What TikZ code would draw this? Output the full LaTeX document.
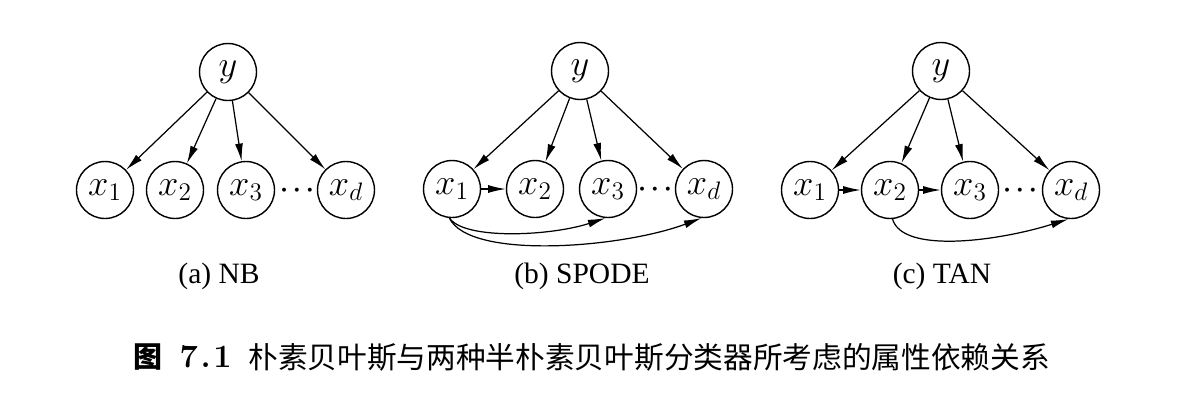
\documentclass[tikz,border=0pt]{standalone}
\usepackage{fontspec}
\usepackage{bm}
\newfontfamily\cjk{Noto Sans CJK SC}
\newfontfamily\labelfont{Liberation Serif}
\usetikzlibrary{arrows.meta}
\begin{document}
\begin{tikzpicture}[x=0.02cm,y=-0.02cm,
  var/.style={circle,draw,line width=0.8pt,minimum size=1.14cm,inner sep=0pt,font=\fontsize{22.5}{25}\selectfont},
  arr/.style={-{Latex[length=10pt,width=4.5pt]},line width=0.7pt},
  sublabel/.style={font=\labelfont\fontsize{16.8}{19}\selectfont},
  dotsnode/.style={font=\fontsize{15}{18}\selectfont,inner sep=0pt},
  capnum/.style={font=\fontsize{16.5}{19}\selectfont,anchor=west,inner sep=0pt},
  captext/.style={font=\cjk\fontsize{16.9}{19}\selectfont,anchor=west,inner sep=0pt}]
\useasboundingbox (0,0) rectangle (1179,410);
% (a) NB
\node[var] (ay) at (228,72) {$y$};
\node[var] (a1) at (105,190) {$x_1$};
\node[var] (a2) at (175,190) {$x_2$};
\node[var] (a3) at (246,190) {$x_3$};
\node[var] (ad) at (346,190) {$x_d$};
\node[dotsnode] (adots) at (297,190) {$\bm{\cdots}$};
\foreach \t in {a1,a2,a3,ad} \draw[arr] (ay) -- (\t);
\node[sublabel] (alab) at (219,276) {(a) NB};
% (b) SPODE
\node[var] (by) at (580,71) {$y$};
\node[var] (b1) at (452,189) {$x_1$};
\node[var] (b2) at (535,189) {$x_2$};
\node[var] (b3) at (608,189) {$x_3$};
\node[var] (bd) at (704,189) {$x_d$};
\node[dotsnode] (bdots) at (655,189) {$\bm{\cdots}$};
\foreach \t in {b1,b2,b3,bd} \draw[arr] (by) -- (\t);
\draw[arr] (b1) -- (b2);
\draw[arr] (b1.-95) .. controls +(15,22) and +(-55,18) .. (b3.-95);
\draw[arr] (b1.-95) .. controls +(20,42) and +(-80,30) .. (bd.-95);
\node[sublabel] (blab) at (582,276) {(b) SPODE};
% (c) TAN
\node[var] (cy) at (941,71) {$y$};
\node[var] (c1) at (810,190) {$x_1$};
\node[var] (c2) at (890,190) {$x_2$};
\node[var] (c3) at (970,190) {$x_3$};
\node[var] (cd) at (1071,190) {$x_d$};
\node[dotsnode] (cdots) at (1020,190) {$\bm{\cdots}$};
\foreach \t in {c1,c2,c3,cd} \draw[arr] (cy) -- (\t);
\draw[arr] (c1) -- (c2);
\draw[arr] (c2) -- (c3);
\draw[arr] (c2.-85) .. controls +(10,35) and +(-70,22) .. (cd.-95);
\node[sublabel] (clab) at (942,276) {(c) TAN};
% caption
\node[capnum] (fig) at (133,357) {{\cjk\bfseries 图}\hspace{0.6em}{\fontsize{18.5}{20}\selectfont\bfseries 7\kern1.5pt.\kern1.5pt1}};
\node[captext] (cap) at (248,357) {朴素贝叶斯与两种半朴素贝叶斯分类器所考虑的属性依赖关系};
\end{tikzpicture}
\end{document}
